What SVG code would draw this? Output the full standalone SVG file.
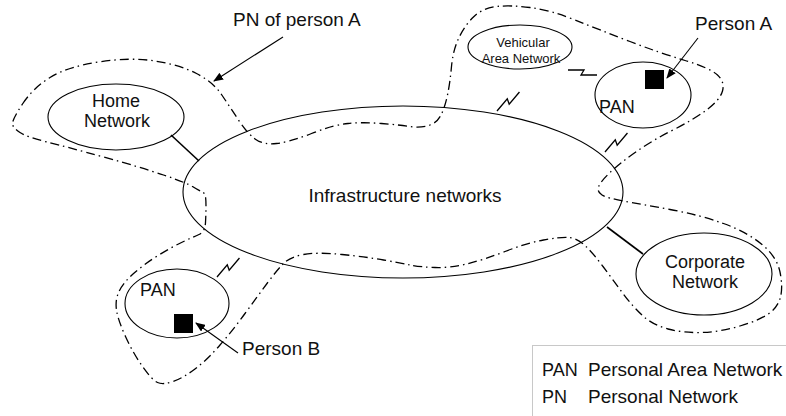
<svg xmlns="http://www.w3.org/2000/svg" width="786" height="416" viewBox="0 0 786 416">
  <style>
    .net { fill: none; stroke: #000; stroke-width: 1.1; }
    .lbl { font-family: "Liberation Sans", Arial, sans-serif; font-size: 18px; fill: #111; }
    .big { font-size: 19px; }
    .small { font-size: 13px; }
    .link { stroke: #000; stroke-width: 1.6; fill: none; }
    .bolt { stroke: #000; stroke-width: 1.3; fill: none; stroke-linejoin: miter; }
    .pn { fill: none; stroke: #000; stroke-width: 1.3; stroke-dasharray: 9 4 1.5 4; }
    .ptr { stroke: #000; stroke-width: 1.1; fill: none; }
  </style>
  <defs>
    <marker id="head" viewBox="0 0 10 8" refX="9" refY="4" markerWidth="10" markerHeight="8" markerUnits="userSpaceOnUse" orient="auto">
      <path d="M0,0 L10,4 L0,8 Z" fill="#000"/>
    </marker>
    <!-- wireless link glyph, drawn along the local x axis -->
    <path id="zap" d="M0,0 L16,0 L13,5 L29,5"/>
  </defs>

  <rect width="786" height="416" fill="#fff"/>

  <!-- personal network boundary of person A -->
  <path id="pn-outline" class="pn" d="M22.5,104 Q33,88 50,77.5 Q67,67 98.5,62 Q130,57 155,61 Q180,65 196.5,73.5 Q213,82 221.5,94.5 Q230,107 238.5,120 Q247,133 255,139 Q263,145 276.5,143.5 Q290,142 311.5,133.5 Q333,125 348,123.5 Q363,122 381.5,123.5 Q400,125 410,126.5 Q420,128 428.5,125.5 Q437,123 441,115 Q445,107 447.5,95 Q450,83 451.5,66.5 Q453,50 459,37.5 Q465,25 474,16.5 Q483,8 496.5,6.5 Q510,5 530,7.5 Q550,10 575,20 Q600,30 630,41.5 Q660,53 685,60.5 Q710,68 717.5,75 Q725,82 722.5,91 Q720,100 706.5,110 Q693,120 673,130 Q653,140 636.5,151.5 Q620,163 610,172.5 Q600,182 598.5,187 Q597,192 602,195 Q607,198 623.5,201 Q640,204 670,209.5 Q700,215 723.5,223.5 Q747,232 762,244.5 Q777,257 780,272 Q783,287 780.5,297 Q778,307 769,313.5 Q760,320 740,326 Q720,332 701.5,332.5 Q683,333 668,329 Q653,325 643,316 Q633,307 623,293.5 Q613,280 603,266.5 Q593,253 585,245.5 Q577,238 568.5,237.5 Q560,237 543.5,240 Q527,243 505,251.5 Q483,260 466.5,264 Q450,268 435,267.5 Q420,267 410,265 Q400,263 383.5,260 Q367,257 342,254.5 Q317,252 303.5,254.5 Q290,257 283.5,263.5 Q277,270 267,283.5 Q257,297 245,313.5 Q233,330 220,345 Q207,360 195,369 Q183,378 173,381.5 Q163,385 157.5,382.5 Q152,380 142.5,366.5 Q133,353 125.5,336.5 Q118,320 116.5,310 Q115,300 119,291.5 Q123,283 133,274 Q143,265 156.5,256.5 Q170,248 181.5,242.5 Q193,237 199,234.5 Q205,232 205.5,222.5 Q206,213 206,206.5 Q206,200 205.5,196.5 Q205,193 201.5,191.5 Q198,190 192.5,186.5 Q187,183 163.5,175 Q140,167 103.5,157 Q67,147 47,142 Q27,137 20,132.5 Q13,128 12.5,124 Q12,120 22.5,104 Z"/>

  <!-- wired and wireless links -->
  <g id="connectors">
    <line class="link" x1="171" y1="135" x2="199" y2="161"/>
    <line class="link" x1="607" y1="227" x2="643" y2="254"/>
    <use href="#zap" class="bolt" transform="translate(568,70)"/>
    <use href="#zap" class="bolt" transform="translate(497,111) rotate(-50)"/>
    <use href="#zap" class="bolt" transform="translate(605,152) rotate(-50)"/>
    <use href="#zap" class="bolt" transform="translate(217,277) rotate(-50)"/>
    <line class="ptr" x1="283" y1="37" x2="214" y2="81" marker-end="url(#head)"/>
    <line class="ptr" x1="698" y1="38" x2="667" y2="78" marker-end="url(#head)"/>
    <line class="ptr" x1="238" y1="353" x2="196" y2="323" marker-end="url(#head)"/>
  </g>

  <g id="infrastructure">
    <ellipse class="net" cx="403" cy="192" rx="220" ry="86"/>
    <text class="lbl big" x="405" y="202" text-anchor="middle">Infrastructure networks</text>
  </g>

  <g id="home-network">
    <ellipse class="net" cx="116" cy="117" rx="68" ry="33"/>
    <text class="lbl" x="116" y="107" text-anchor="middle">Home</text>
    <text class="lbl" x="117" y="127" text-anchor="middle">Network</text>
  </g>

  <g id="vehicular-network">
    <ellipse class="net" cx="520" cy="47" rx="52" ry="22"/>
    <text class="lbl small" x="523" y="47" text-anchor="middle">Vehicular</text>
    <text class="lbl small" x="521" y="63" text-anchor="middle">Area Network</text>
  </g>

  <g id="pan-a">
    <ellipse class="net" cx="643" cy="95" rx="48" ry="33"/>
    <rect x="645" y="70" width="19" height="19" fill="#000"/>
    <text class="lbl" x="599" y="113">PAN</text>
  </g>

  <g id="corporate-network">
    <ellipse class="net" cx="704" cy="274" rx="68" ry="41"/>
    <text class="lbl" x="705" y="268" text-anchor="middle">Corporate</text>
    <text class="lbl" x="705" y="288" text-anchor="middle">Network</text>
  </g>

  <g id="pan-b">
    <ellipse class="net" cx="177" cy="303.5" rx="52" ry="34.5"/>
    <rect x="174" y="314" width="19" height="19" fill="#000"/>
    <text class="lbl" x="140" y="296">PAN</text>
  </g>

  <g id="labels">
    <text class="lbl big" x="233" y="26">PN of person A</text>
    <text class="lbl big" x="695" y="30">Person A</text>
    <text class="lbl big" x="242" y="355">Person B</text>
  </g>

  <g id="legend">
    <rect x="532.5" y="345.5" width="270" height="90" fill="#fff" stroke="#c8c8c8" stroke-width="1"/>
    <text class="lbl" x="542" y="376">PAN</text>
    <text class="lbl big" x="588" y="376">Personal Area Network</text>
    <text class="lbl" x="542" y="403">PN</text>
    <text class="lbl big" x="588" y="403">Personal Network</text>
  </g>
</svg>
